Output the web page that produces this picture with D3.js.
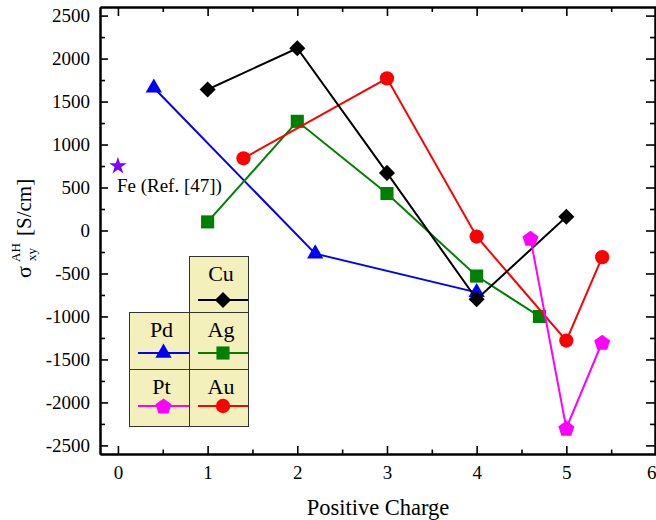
<!DOCTYPE html>
<html><head><meta charset="utf-8">
<script src="https://cdn.jsdelivr.net/npm/d3@7"></script>
<style>
body{margin:0;background:#fff}
svg{display:block}
svg text{font-family:'Liberation Serif','DejaVu Serif',serif !important;fill:#000}
</style>
</head><body><svg id="c" width="656" height="520" font-family="Liberation Serif"></svg>
<script>
// ---------- data ----------
const xTicks = [0, 1, 2, 3, 4, 5, 6];
const xMinorTicks = [0.5, 1.5, 2.5, 3.5, 4.5, 5.5];
const yTicks = [-2500, -2000, -1500, -1000, -500, 0, 500, 1000, 1500, 2000, 2500];
const yMinorTicks = [-2250, -1750, -1250, -750, -250, 250, 750, 1250, 1750, 2250];

const seriesNames  = ["Pd", "Ag", "Au", "Cu", "Pt"];
const seriesColors = ["#0000ff", "#008000", "#ff0000", "#000000", "#ff00ff"];
const seriesSymbols = ["triangle", "square", "circle", "diamond", "pentagon"];

const pdX = [0.4, 2.2, 4];           const pdY = [1660, -270, -720];
const agX = [1, 2, 3, 4, 4.7];       const agY = [100, 1270, 430, -530, -1000];
const auX = [1.4, 3, 4, 5, 5.4];     const auY = [840, 1770, -70, -1280, -310];
const cuX = [1, 2, 3, 4, 5];         const cuY = [1640, 2120, 670, -800, 160];
const ptX = [4.6, 5, 5.4];           const ptY = [-90, -2300, -1300];

const feX = [0];  const feY = [750];
const feLabel = "Fe (Ref. [47])";
const feColor = "#8000ff";

const xTitle = "Positive Charge";
const yTitleMain = "σ", yTitleSup = "AH", yTitleSub = "xy", yTitleUnit = "[S/cm]";

const seriesXs = [pdX, agX, auX, cuX, ptX];
const seriesYs = [pdY, agY, auY, cuY, ptY];

// ---------- layout ----------
const FONT = "'Liberation Serif','DejaVu Serif',serif";
const svg = d3.select("#c");
const L = 100, R = 656, T = 7, B = 454;
const x = d3.scaleLinear().domain([-0.2, 6]).range([L, R]);
const y = d3.scaleLinear().domain([-2600, 2600]).range([B, T]);

function symbolPath(kind) {
  if (kind === "triangle") return d3.symbol(d3.symbolTriangle, 115)();
  if (kind === "square") return d3.symbol(d3.symbolSquare, 172)();
  if (kind === "circle") return d3.symbol(d3.symbolCircle, 160)();
  if (kind === "diamond") return d3.symbol(d3.symbolSquare, 130)();
  if (kind === "pentagon") {
    const r = 8.4, pts = [];
    for (let k = 0; k < 5; k++) {
      const a = -Math.PI / 2 + k * 2 * Math.PI / 5;
      pts.push([r * Math.cos(a), r * Math.sin(a) + 0.8]);
    }
    return "M" + pts.map(p => p.join(",")).join("L") + "Z";
  }
}
function symbolRot(kind) { return kind === "diamond" ? " rotate(45)" : ""; }

// ---------- axes ----------
function styleAxis(g) {
  g.attr("font-family", FONT);
  g.selectAll(".domain").attr("stroke", "#000").attr("stroke-width", 2);
  g.selectAll(".tick line").attr("stroke", "#000").attr("stroke-width", 1.6);
  g.selectAll("text").attr("fill", "#000").attr("font-size", 19).attr("font-family", FONT);
}
const fmt = d => String(d);
// bottom
const bx = svg.append("g").attr("transform", `translate(0,${B})`)
  .call(d3.axisBottom(x).tickValues(xTicks).tickSize(-8).tickSizeOuter(0).tickPadding(12).tickFormat(fmt))
  .call(styleAxis);
bx.selectAll(".tick").filter(d => d === 6).select("text").attr("text-anchor", "end").attr("x", 0);
svg.append("g").attr("transform", `translate(0,${B})`)
  .call(d3.axisBottom(x).tickValues(xMinorTicks).tickSize(-4.5).tickSizeOuter(0).tickFormat(""))
  .call(styleAxis);
// top
svg.append("g").attr("transform", `translate(0,${T})`)
  .call(d3.axisTop(x).tickValues(xTicks).tickSize(-9).tickSizeOuter(0).tickFormat(""))
  .call(styleAxis);
svg.append("g").attr("transform", `translate(0,${T})`)
  .call(d3.axisTop(x).tickValues(xMinorTicks).tickSize(-5).tickSizeOuter(0).tickFormat(""))
  .call(styleAxis);
// left
svg.append("g").attr("transform", `translate(${L},0)`)
  .call(d3.axisLeft(y).tickValues(yTicks).tickSize(-8).tickSizeOuter(0).tickPadding(10).tickFormat(fmt))
  .call(styleAxis);
svg.append("g").attr("transform", `translate(${L},0)`)
  .call(d3.axisLeft(y).tickValues(yMinorTicks).tickSize(-5).tickSizeOuter(0).tickFormat(""))
  .call(styleAxis);
// right
svg.append("g").attr("transform", `translate(${R - 1},0)`)
  .call(d3.axisRight(y).tickValues(yTicks).tickSize(-9).tickSizeOuter(0).tickFormat(""))
  .call(styleAxis);
svg.append("g").attr("transform", `translate(${R - 1},0)`)
  .call(d3.axisRight(y).tickValues(yMinorTicks).tickSize(-5).tickSizeOuter(0).tickFormat(""))
  .call(styleAxis);

// ---------- series ----------
const line = d3.line().x(d => x(d[0])).y(d => y(d[1]));
seriesNames.forEach((name, i) => {
  const pts = seriesXs[i].map((v, j) => [v, seriesYs[i][j]]);
  const g = svg.append("g");
  g.append("path").attr("d", line(pts)).attr("fill", "none")
    .attr("stroke", seriesColors[i]).attr("stroke-width", 2);
  g.selectAll("path.m").data(pts).join("path").attr("class", "m")
    .attr("d", symbolPath(seriesSymbols[i]))
    .attr("transform", d => `translate(${x(d[0])},${y(d[1])})${symbolRot(seriesSymbols[i])}`)
    .attr("fill", seriesColors[i]);
});

// Fe star
svg.append("path")
  .attr("d", d3.symbol(d3.symbolStar, 95)())
  .attr("transform", `translate(${x(feX[0])},${y(feY[0])})`)
  .attr("fill", feColor);
svg.append("text").attr("x", x(feX[0]) - 1).attr("y", y(feY[0]) + 26)
  .attr("font-family", FONT).attr("font-size", 19).text(feLabel);

// ---------- legend ----------
const colX = [129, 189, 248];
const rowY = [256, 312, 369, 426];
const lineOff = [44, 41, 37];
const cells = { Cu: [1, 0], Pd: [0, 1], Ag: [1, 1], Pt: [0, 2], Au: [1, 2] };
const leg = svg.append("g");
seriesNames.forEach((name, i) => {
  const [c, r] = cells[name];
  const x0 = colX[c], x1 = colX[c + 1], y0 = rowY[r], y1 = rowY[r + 1];
  leg.append("rect").attr("x", x0 + 0.5).attr("y", y0 + 0.5)
    .attr("width", x1 - x0).attr("height", y1 - y0)
    .attr("fill", "#f4f0bb").attr("stroke", "#333").attr("stroke-width", 1);
});
seriesNames.forEach((name, i) => {
  const [c, r] = cells[name];
  const x0 = colX[c], x1 = colX[c + 1], y0 = rowY[r];
  const cx = (x0 + 9 + x1) / 2;
  leg.append("text").attr("x", cx - 2).attr("y", y0 + 24.5)
    .attr("text-anchor", "middle").attr("font-family", FONT).attr("font-size", 22).text(name);
  const ly = y0 + lineOff[r];
  leg.append("line").attr("x1", x0 + 9).attr("x2", x1).attr("y1", ly).attr("y2", ly)
    .attr("stroke", seriesColors[i]).attr("stroke-width", 2);
  leg.append("path").attr("d", symbolPath(seriesSymbols[i]))
    .attr("transform", `translate(${cx},${ly})${symbolRot(seriesSymbols[i])}`)
    .attr("fill", seriesColors[i]);
});

// ---------- titles ----------
svg.append("text").attr("x", (L + R) / 2).attr("y", 515).attr("text-anchor", "middle")
  .attr("font-family", FONT).attr("font-size", 22.5).text(xTitle);

const yt = svg.append("g").attr("transform", "translate(31,229) rotate(-90)").attr("font-family", FONT);
yt.append("text").attr("x", -49).attr("y", 0).attr("font-size", 22).text(yTitleMain);
yt.append("text").attr("x", -33).attr("y", -11).attr("font-size", 13).text(yTitleSup);
yt.append("text").attr("x", -32).attr("y", 5).attr("font-size", 13).text(yTitleSub);
yt.append("text").attr("x", -7).attr("y", 0).attr("font-size", 21).text(yTitleUnit);
</script>
</body></html>
